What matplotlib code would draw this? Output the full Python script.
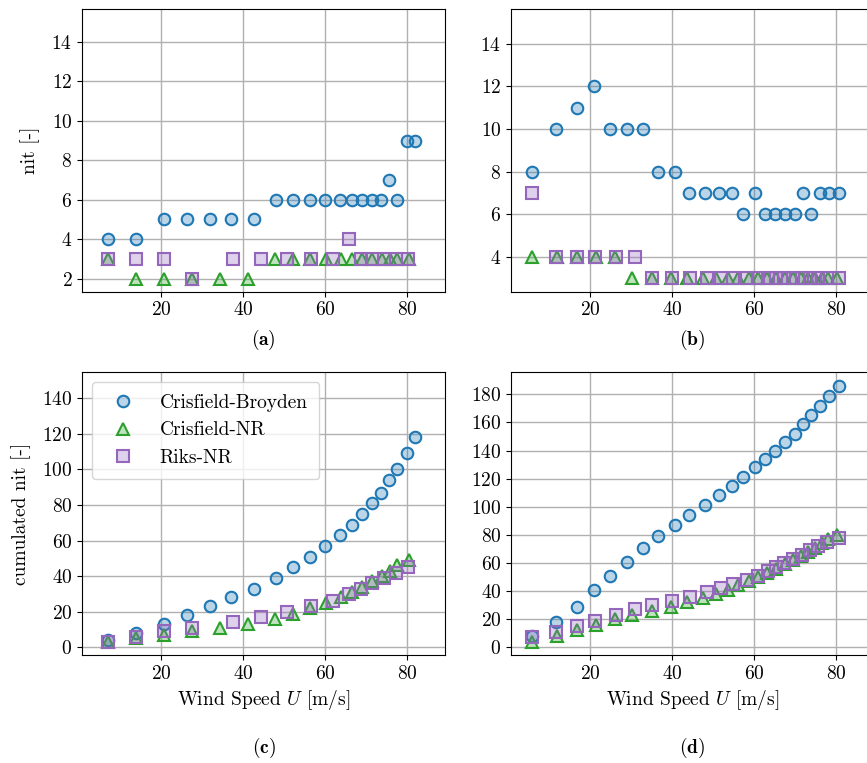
import matplotlib
matplotlib.use("Agg")
import matplotlib.pyplot as plt
from matplotlib.colors import to_rgba
import numpy as np

plt.rcParams.update({
    "font.family": "serif",
    "font.serif": ["cmr10"],
    "mathtext.fontset": "cm",
    "axes.formatter.use_mathtext": True,
    "font.size": 14,
})

# ---- Panel (a)/(c) data ----
a_cb_x = [7.0, 13.9, 20.8, 26.3, 31.9, 37.2, 42.7, 48.0, 52.3, 56.3, 60.1, 63.7, 66.5, 69.0, 71.4, 73.7, 75.7, 77.7, 80.0, 81.9]
a_cb_y = [4, 4, 5, 5, 5, 5, 5, 6, 6, 6, 6, 6, 6, 6, 6, 6, 7, 6, 9, 9]
a_cn_x = [7.0, 13.9, 20.8, 27.7, 34.5, 41.3, 47.9, 52.3, 56.4, 60.2, 64.0, 66.5, 69.0, 71.4, 74.0, 75.9, 77.7, 80.4]
a_cn_y = [3, 2, 2, 2, 2, 2, 3, 3, 3, 3, 3, 3, 3, 3, 3, 3, 3, 3]
a_rn_x = [7.0, 13.9, 20.8, 27.7, 37.6, 44.5, 50.8, 56.5, 62.0, 66.0, 68.7, 71.5, 74.5, 77.3, 80.3]
a_rn_y = [3, 3, 3, 2, 3, 3, 3, 3, 3, 4, 3, 3, 3, 3, 3]

# ---- Panel (b)/(d) data ----
b_cb_x = [5.9, 11.8, 16.8, 20.9, 24.8, 29.0, 32.9, 36.7, 40.8, 44.2, 48.1, 51.5, 54.7, 57.4, 60.3, 62.7, 65.2, 67.7, 70.0, 72.0, 74.0, 76.1, 78.4, 80.7]
b_cb_y = [8, 10, 11, 12, 10, 10, 10, 8, 8, 7, 7, 7, 7, 6, 7, 6, 6, 6, 6, 7, 6, 7, 7, 7]
b_cn_x = [5.9, 11.9, 16.9, 21.4, 26.0, 30.2, 35.1, 39.7, 43.8, 47.5, 50.7, 53.8, 56.2, 58.9, 61.0, 63.3, 65.5, 67.7, 69.6, 71.5, 73.2, 74.9, 76.5, 78.1, 80.2]
b_cn_y = [4, 4, 4, 4, 4, 3, 3, 3, 3, 3, 3, 3, 3, 3, 3, 3, 3, 3, 3, 3, 3, 3, 3, 3, 3]
b_rn_x = [5.9, 11.8, 16.8, 21.3, 26.3, 30.9, 35.2, 40.0, 44.3, 48.5, 51.9, 55.0, 58.2, 61.1, 63.5, 65.3, 67.3, 69.6, 71.8, 73.8, 75.7, 77.9, 80.8]
b_rn_y = [7, 4, 4, 4, 4, 4, 3, 3, 3, 3, 3, 3, 3, 3, 3, 3, 3, 3, 3, 3, 3, 3, 3]

labels = ["Crisfield-Broyden", "Crisfield-NR", "Riks-NR"]
colors = ["tab:blue", "tab:green", "tab:purple"]
markers = ["o", "^", "s"]
y_ticks_a = [2, 4, 6, 8, 10, 12, 14]
y_ticks_b = [4, 6, 8, 10, 12, 14]
y_ticks_c = [0, 20, 40, 60, 80, 100, 120, 140]
y_ticks_d = [0, 20, 40, 60, 80, 100, 120, 140, 160, 180]
x_ticks = [20, 40, 60, 80]

W, H = 867, 763
fig = plt.figure(figsize=(W / 100, H / 100), dpi=100)

def rect(l, t, r, b):
    return [l / W, 1 - b / H, (r - l) / W, (b - t) / H]

ax_a = fig.add_axes(rect(82, 9, 445, 291.7))
ax_b = fig.add_axes(rect(511, 9, 874, 291.7))
ax_c = fig.add_axes(rect(82, 372.3, 445, 655))
ax_d = fig.add_axes(rect(511, 372.3, 874, 655))

def draw(ax, series, cumulative):
    for (x, y), lab, c, m in zip(series, labels, colors, markers):
        yy = np.cumsum(y) if cumulative else np.asarray(y)
        ax.plot(x, yy, linestyle="none", marker=m, markersize=8.3 if m != "^" else 8.8,
                markerfacecolor=to_rgba(c, 0.3), markeredgecolor=c,
                markeredgewidth=1.5, label=lab, zorder=3)
    ax.grid(True, color="#b0b0b0", linewidth=1.0)
    ax.set_axisbelow(True)
    ax.set_xticks(x_ticks)
    ax.set_xlim(0.75, 89.3)

sa = [(a_cb_x, a_cb_y), (a_cn_x, a_cn_y), (a_rn_x, a_rn_y)]
sb = [(b_cb_x, b_cb_y), (b_cn_x, b_cn_y), (b_rn_x, b_rn_y)]

draw(ax_a, sa, False)
draw(ax_b, sb, False)
draw(ax_c, sa, True)
draw(ax_d, sb, True)

ax_a.set_yticks(y_ticks_a); ax_a.set_ylim(1.34, 15.67)
ax_b.set_yticks(y_ticks_b); ax_b.set_ylim(2.37, 15.63)
ax_c.set_yticks(y_ticks_c); ax_c.set_ylim(-4.33, 154.6)
ax_d.set_yticks(y_ticks_d); ax_d.set_ylim(-5.48, 195.65)

ax_a.set_ylabel("nit [-]", labelpad=8)
ax_c.set_ylabel("cumulated nit [-]", labelpad=8)
ax_c.set_xlabel(r"Wind Speed $U$ [m/s]")
ax_d.set_xlabel(r"Wind Speed $U$ [m/s]")

ax_c.legend(loc="upper left", handletextpad=0.9, borderpad=0.6, labelspacing=0.5)

for ax, lab, y in [(ax_a, "a", 340), (ax_b, "b", 340), (ax_c, "c", 748), (ax_d, "d", 748)]:
    pos = ax.get_position()
    fig.text(pos.x0 + pos.width / 2, 1 - y / H, r"$(\mathbf{%s})$" % lab,
             ha="center", va="center", fontsize=14)

fig.savefig("out.png", dpi=100)
